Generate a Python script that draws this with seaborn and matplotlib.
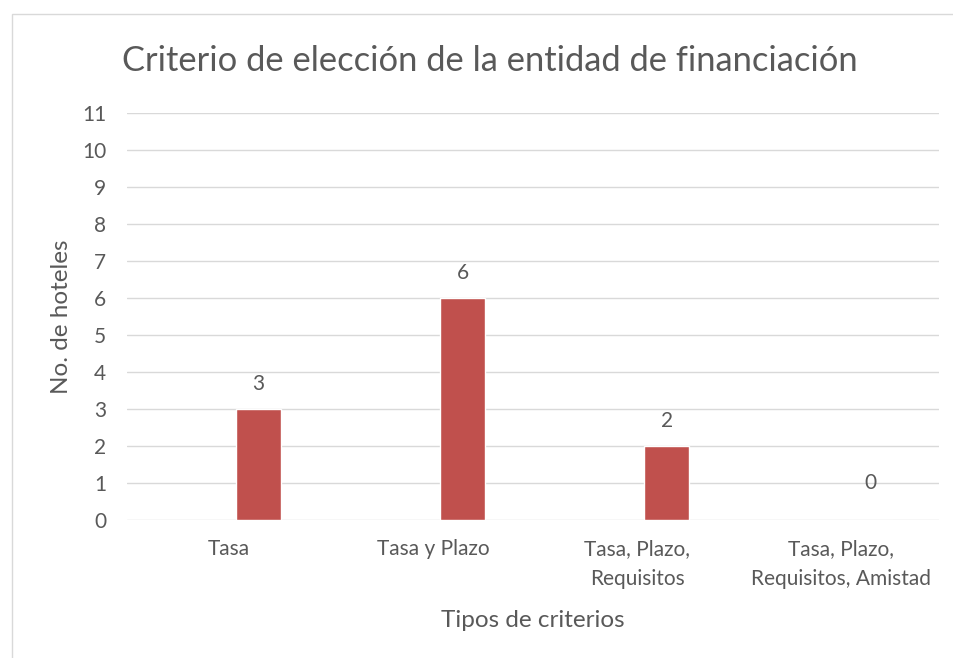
import matplotlib
matplotlib.use("Agg")
import matplotlib.pyplot as plt
import matplotlib.patches as mpatches
import seaborn as sns
import pandas as pd

# datos del grafico
criterios = ["Tasa", "Tasa y Plazo", "Tasa, Plazo,\nRequisitos", "Tasa, Plazo,\nRequisitos, Amistad"]
hoteles = [3, 6, 2, 0]
series = ["vacia", "hoteles"]

sns.set_theme(style="white")
plt.rcParams['font.family'] = ['Lato', 'DejaVu Sans']

gris = "#595959"
rojo = "#C0504D"

df = pd.DataFrame({"criterio": criterios, "serie": "hoteles", "valor": hoteles})

fig = plt.figure(figsize=(9.54, 6.58), dpi=100)
ax = fig.add_axes([0.1331, 0.2097, 0.8512, 0.6186])

# la serie "vacia" no tiene datos: solo desplaza las barras a la derecha
sns.barplot(data=df, x="criterio", y="valor", hue="serie", hue_order=series,
            order=criterios, palette={"vacia": rojo, "hoteles": rojo},
            width=0.58, gap=0.238, dodge=True, legend=False, ax=ax, saturation=1)

ax.set_ylim(0, 11)
ax.set_yticks(range(0, 12))
ax.set_xlim(-0.50, 3.48)
ax.yaxis.grid(True, color="#D9D9D9", lw=1)
ax.set_axisbelow(True)
for s in ax.spines.values():
    s.set_visible(False)
ax.tick_params(axis="both", length=0, labelsize=15, colors=gris)
ax.tick_params(axis="x", pad=14)
ax.tick_params(axis="y", pad=15)
for t in ax.get_xticklabels():
    t.set_linespacing(1.6)
    t.set_verticalalignment("top")

ax.set_xlabel("Tipos de criterios", fontsize=17.5, color=gris, labelpad=15)
ax.set_ylabel("No. de hoteles", fontsize=17.5, color=gris, labelpad=7)

# etiquetas de datos
for cont in ax.containers:
    for bar in cont:
        h = bar.get_height()
        if h != h:
            continue
        off = 18 if h > 0 else 27
        ax.annotate(f"{int(h)}", (bar.get_x() + bar.get_width() / 2, h),
                    xytext=(0, off), textcoords="offset points",
                    ha="center", va="center", fontsize=15, color=gris)

fig.text(0.513, 0.908, "Criterio de elección de la entidad de financiación",
         ha="center", va="center", fontsize=24.8, color=gris)

fig.patches.append(mpatches.Rectangle((0.0126, -0.1), 1.2, 1.079,
                                      transform=fig.transFigure, fill=False,
                                      edgecolor="#D9D9D9", lw=1))

fig.savefig("out.png", dpi=100, facecolor="white")
